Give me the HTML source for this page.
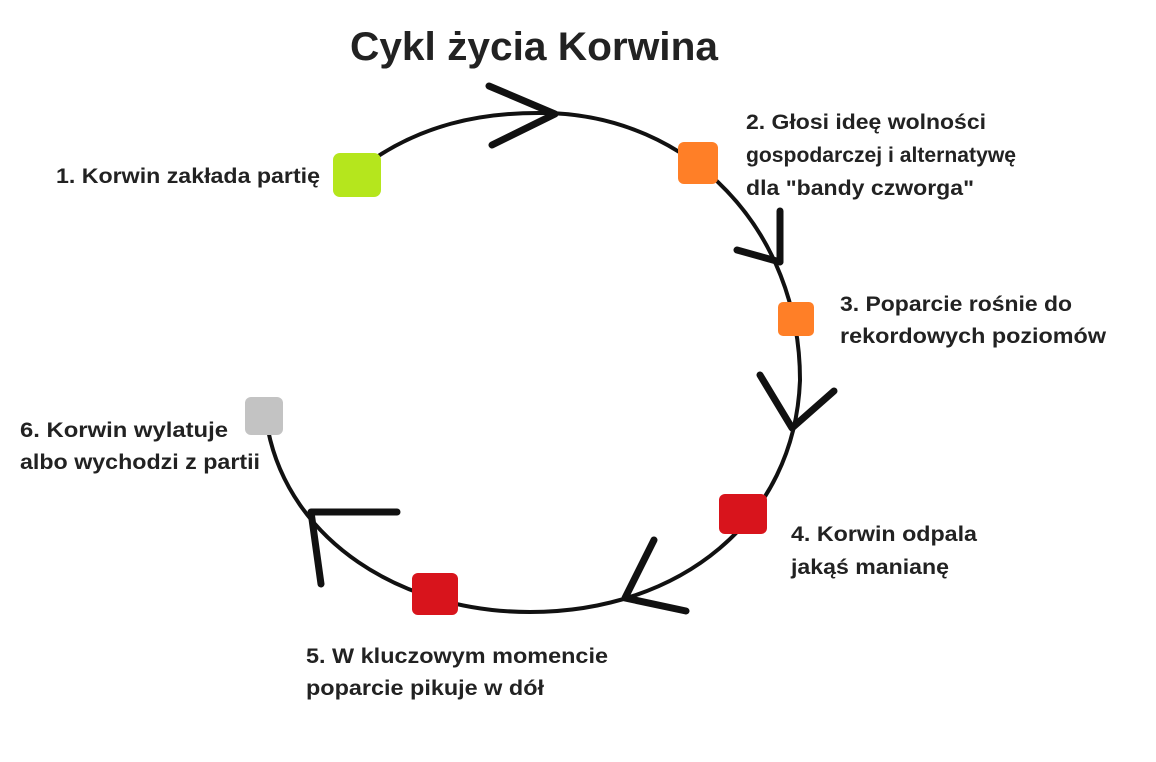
<!DOCTYPE html>
<html><head><meta charset="utf-8"><style>
html,body{margin:0;padding:0;background:#fff;}
svg{display:block;}
text{font-family:"Liberation Sans",sans-serif;font-weight:bold;fill:#222;}
</style></head><body>
<svg width="1156" height="762" viewBox="0 0 1156 762" xmlns="http://www.w3.org/2000/svg">
<text x="350" y="60" font-size="40" textLength="368" lengthAdjust="spacingAndGlyphs">Cykl życia Korwina</text>
<path d="M365,165 C420,125 480,112 545,113 C690,115 800,230 800,380 C795,520 680,612 530,612 C400,612 290,540 268,430" fill="none" stroke="#111" stroke-width="4"/>
<g stroke="#111" stroke-width="7" stroke-linecap="round" stroke-linejoin="round" fill="none">
<path d="M489,86 L555,114 L492,145"/>
<path d="M737,250 L780,262 L780,211"/>
<path d="M760,375 L792,428 L834,391"/>
<path d="M654,540 L625,598 L686,611"/>
<path d="M397,512 L311,512 L321,584"/>
</g>
<rect x="333" y="153" width="48" height="44" rx="7" fill="#b5e61d"/>
<rect x="678" y="142" width="40" height="42" rx="6" fill="#ff7f27"/>
<rect x="778" y="302" width="36" height="34" rx="5" fill="#ff7f27"/>
<rect x="719" y="494" width="48" height="40" rx="6" fill="#d8141c"/>
<rect x="412" y="573" width="46" height="42" rx="6" fill="#d8141c"/>
<rect x="245" y="397" width="38" height="38" rx="6" fill="#c3c3c3"/>
<g font-size="21">
<text x="56" y="183" textLength="264" lengthAdjust="spacingAndGlyphs">1. Korwin zakłada partię</text>
<text x="746" y="129" textLength="240" lengthAdjust="spacingAndGlyphs">2. Głosi ideę wolności</text>
<text x="746" y="162" textLength="270" lengthAdjust="spacingAndGlyphs">gospodarczej i alternatywę</text>
<text x="746" y="195" textLength="228" lengthAdjust="spacingAndGlyphs">dla "bandy czworga"</text>
<text x="840" y="311" textLength="232" lengthAdjust="spacingAndGlyphs">3. Poparcie rośnie do</text>
<text x="840" y="343" textLength="266" lengthAdjust="spacingAndGlyphs">rekordowych poziomów</text>
<text x="791" y="541" textLength="186" lengthAdjust="spacingAndGlyphs">4. Korwin odpala</text>
<text x="791" y="574" textLength="158" lengthAdjust="spacingAndGlyphs">jakąś manianę</text>
<text x="306" y="663" textLength="302" lengthAdjust="spacingAndGlyphs">5. W kluczowym momencie</text>
<text x="306" y="695" textLength="238" lengthAdjust="spacingAndGlyphs">poparcie pikuje w dół</text>
<text x="20" y="437" textLength="208" lengthAdjust="spacingAndGlyphs">6. Korwin wylatuje</text>
<text x="20" y="469" textLength="240" lengthAdjust="spacingAndGlyphs">albo wychodzi z partii</text>
</g>
</svg>
</body></html>
